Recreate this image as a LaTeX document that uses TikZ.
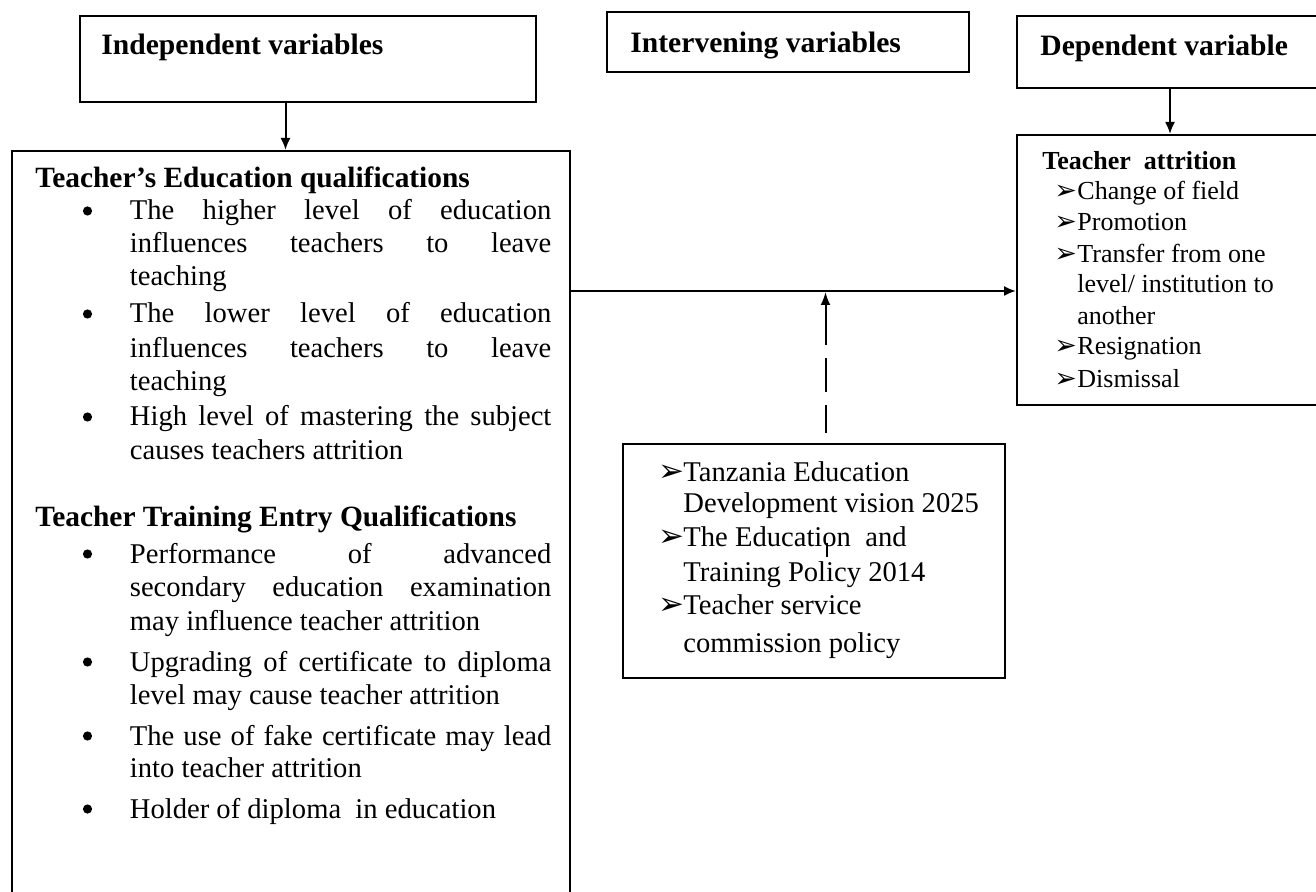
\documentclass[tikz,border=0pt]{standalone}
\usepackage{fontspec}
\setmainfont{Liberation Serif}
\newfontfamily\arrowfont{DejaVu Sans}
\usetikzlibrary{arrows.meta,fit}

% list markers used in the right-hand boxes
\newcommand{\arrowmark}{{\arrowfont\fontsize{13.5}{15}\selectfont ➢}}
\newcommand{\arrowmarkL}{{\arrowfont\fontsize{15.5}{17}\selectfont ➢}}
% a line of justified text across the full column width
\newcommand{\jline}[1]{\makebox[210.75pt][s]{#1}}

\begin{document}
\begin{tikzpicture}[x=0.5pt,y=-0.5pt,
  box/.style={draw, line width=1pt, inner sep=0pt},
  flow/.style={line width=1pt, -{Latex[length=6pt,width=5pt]}},
  hdr/.style={anchor=base west, inner sep=0pt, font=\bfseries\fontsize{14.8}{17}\selectfont},
  ttl/.style={anchor=base west, inner sep=0pt, font=\bfseries\fontsize{14.7}{17}\selectfont},
  body/.style={anchor=base west, inner sep=0pt, font=\fontsize{14.3}{17}\selectfont},
  dot/.style={circle, fill, inner sep=0pt, minimum size=4.6pt},
  small/.style={anchor=base west, inner sep=0pt, font=\fontsize{13}{15}\selectfont},
  smallttl/.style={anchor=base west, inner sep=0pt, font=\bfseries\fontsize{13}{15}\selectfont},
  arrmark/.style={anchor=base west, inner sep=0pt}
]
\useasboundingbox (0,0) rectangle (1316,892);
\clip (0,0) rectangle (1316,892);

% ---- header boxes ----
\node[box, fit={(80,16) (536,102)}] (indep) {};
\node[box, fit={(607,12) (969,72)}] (interv) {};
\node[box, fit={(1017,16) (1323,88)}] (dep) {};
\node[hdr] (indepT) at (101,55) {Independent variables};
\node[hdr] (intervT) at (630,53) {Intervening variables};
\node[hdr] (depT) at (1040,56) {Dependent variable};

% ---- main boxes ----
\node[box, fit={(12,151) (570,905)}] (big) {};
\node[box, fit={(1017,135) (1323,405)}] (attr) {};
\node[box, fit={(623,444) (1005,678)}] (policy) {};

% ---- connectors ----
\coordinate (ax1) at (285.5,0);
\coordinate (ax2) at (1170,0);
\coordinate (flowy) at (0,291);
\draw[flow] (indep.south -| ax1) -- (big.north -| ax1);
\draw[flow] (dep.south -| ax2) -- (attr.north -| ax2);
\draw[flow] (big.east |- flowy) -- (attr.west |- flowy);
\coordinate (dashfoot) at (825.5,433);
\coordinate (dashtip) at (825.5,292);
\draw[line width=1pt, dash pattern=on 14pt off 6.5pt on 17pt off 6.5pt on 60pt,
      -{Latex[length=6.5pt,width=5pt]}] (dashfoot) -- (dashtip);
\draw[line width=0.6pt] (827,543) -- (827,557);

% ---- independent variables: text ----
\node[ttl] (t1) at (35,188) {Teacher’s Education qualifications};
\node[dot] (b1) at (87.5,211) {};
\node[body] (l1) at (129.5,220) {\jline{The higher level of education}};
\node[body] (l2) at (129.5,253) {\jline{influences teachers to leave}};
\node[body] (l3) at (129.5,286) {teaching};
\node[dot] (b2) at (87.5,314) {};
\node[body] (l4) at (129.5,323) {\jline{The lower level of education}};
\node[body] (l5) at (129.5,358) {\jline{influences teachers to leave}};
\node[body] (l6) at (129.5,391) {teaching};
\node[dot] (b3) at (87.5,417) {};
\node[body] (l7) at (129.5,426) {\jline{High level of mastering the subject}};
\node[body] (l8) at (129.5,460) {causes teachers attrition};

\node[ttl] (t2) at (35,526) {Teacher Training Entry Qualifications};
\node[dot] (b4) at (87.5,554) {};
\node[body] (m1) at (129.5,563) {\jline{Performance of advanced}};
\node[body] (m2) at (129.5,596) {\jline{secondary education examination}};
\node[body] (m3) at (129.5,630) {may influence teacher attrition};
\node[dot] (b5) at (87.5,662) {};
\node[body] (m4) at (129.5,671) {\jline{Upgrading of certificate to diploma}};
\node[body] (m5) at (129.5,704) {level may cause teacher attrition};
\node[dot] (b6) at (87.5,736) {};
\node[body] (m6) at (129.5,745) {\jline{The use of fake certificate may lead}};
\node[body] (m7) at (129.5,777) {into teacher attrition};
\node[dot] (b7) at (87.5,809) {};
\node[body] (m8) at (129.5,818) {Holder of diploma\ \ in education};

% ---- dependent variable: text ----
\node[smallttl] (at) at (1042,170) {Teacher\ \ attrition};
\node[arrmark] (a1m) at (1054,200) {\arrowmark};
\node[small] (a1) at (1077,200) {Change of field};
\node[arrmark] (a2m) at (1054,231) {\arrowmark};
\node[small] (a2) at (1077,231) {Promotion};
\node[arrmark] (a3m) at (1054,263) {\arrowmark};
\node[small] (a3) at (1077,263) {Transfer from one};
\node[small] (a4) at (1077,293) {level/ institution to};
\node[small] (a5) at (1077,325) {another};
\node[arrmark] (a6m) at (1054,355) {\arrowmark};
\node[small] (a6) at (1077,355) {Resignation};
\node[arrmark] (a7m) at (1054,388) {\arrowmark};
\node[small] (a7) at (1077,388) {Dismissal};

% ---- intervening variables: text ----
\node[arrmark] (p1m) at (658,481) {\arrowmarkL};
\node[body] (p1) at (683,481) {Tanzania Education};
\node[body] (p2) at (683,512) {Development vision 2025};
\node[arrmark] (p3m) at (658,546) {\arrowmarkL};
\node[body] (p3) at (683,546) {The Education\ \ and};
\node[body] (p4) at (683,581) {Training Policy 2014};
\node[arrmark] (p5m) at (658,614) {\arrowmarkL};
\node[body] (p5) at (683,614) {Teacher service};
\node[body] (p6) at (683,652) {commission policy};
\end{tikzpicture}
\end{document}
